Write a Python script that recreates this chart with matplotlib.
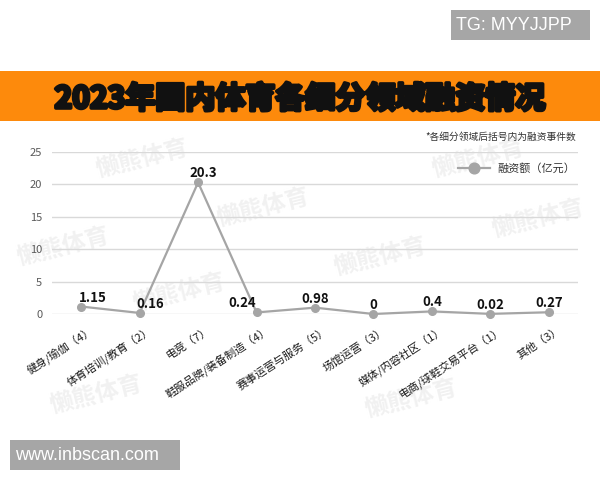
import matplotlib
matplotlib.use('Agg')
import matplotlib.pyplot as plt
from matplotlib.patches import Rectangle
from matplotlib.transforms import ScaledTranslation
import matplotlib.patheffects as pe

plt.rcParams['font.family'] = ['Noto Sans CJK SC', 'DejaVu Sans']

# ---- data ----
categories = ['健身/瑜伽（4）', '体育培训/教育（2）', '电竞（7）', '鞋服品牌/装备制造（4）',
              '赛事运营与服务（5）', '场馆运营（3）', '媒体/内容社区（1）',
              '电商/球鞋交易平台（1）', '其他（3）']
values = [1.15, 0.16, 20.3, 0.24, 0.98, 0, 0.4, 0.02, 0.27]
value_labels = ['1.15', '0.16', '20.3', '0.24', '0.98', '0', '0.4', '0.02', '0.27']
yticks = [0, 5, 10, 15, 20, 25]
series_name = '融资额（亿元）'
title = '2023年国内体育各细分领域融资情况'
note = '*各细分领域后括号内为融资事件数'
watermark = '懒熊体育'
tg_text = 'TG: MYYJJPP'
site_text = 'www.inbscan.com'

# label x-offsets (pixels), style only
label_dx_px = [12, 11, 5, -14, 0, 0, 0, 0, 0]

W, H = 600, 480
fig = plt.figure(figsize=(6, 4.8), dpi=100)
fig.patch.set_facecolor('white')

def fx(px):
    return px / W

def fy(py):
    return 1 - py / H

# orange band
fig.patches.append(Rectangle((0, fy(121)), 1, 50 / H, transform=fig.transFigure,
                             facecolor='#fd8a0c', edgecolor='none', zorder=-2))
fig.text(0.5, fy(99), title, ha='center', va='center', fontsize=21.6,
         fontweight='bold', color='#111111',
         path_effects=[pe.withStroke(linewidth=2.6, foreground='#111111')])

# TG box
fig.patches.append(Rectangle((fx(451), fy(40)), fx(590) - fx(451), 30 / H,
                             transform=fig.transFigure, facecolor='#a6a6a6',
                             edgecolor='none'))
fig.text(fx(456), fy(25.5), tg_text, ha='left', va='center', fontsize=13,
         color='white', family='Liberation Sans')

# site box
fig.patches.append(Rectangle((fx(10), fy(470)), fx(180) - fx(10), 30 / H,
                             transform=fig.transFigure, facecolor='#a6a6a6',
                             edgecolor='none'))
fig.text(fx(15), fy(455.5), site_text, ha='left', va='center', fontsize=13,
         color='white', family='Liberation Sans')

# watermarks
for (cx, cy) in [(142, 158), (63, 246), (179, 292), (263, 207), (478, 158),
                 (380, 256), (538, 218), (96, 394), (411, 398)]:
    fig.text(fx(cx), fy(cy), watermark, ha='center', va='center', fontsize=17,
             rotation=14, color='#f1f1f1', fontweight='bold', zorder=-1)

# note
fig.text(fx(576), fy(137), note, ha='right', va='center', fontsize=7, color='#333333')

# axes
ax = fig.add_axes([fx(52), fy(314), fx(578) - fx(52), (314 - 152) / H])
ax.set_facecolor('none')
x = list(range(len(categories)))
ax.plot(x, values, color='#a5a5a5', lw=1.6, marker='o', ms=5.5,
        markerfacecolor='#a5a5a5', markeredgecolor='#a5a5a5', label=series_name,
        zorder=3, clip_on=False)
for xi, v, lab, dx in zip(x, values, value_labels, label_dx_px):
    ax.annotate(lab, (xi, v), xytext=(dx * 0.72, 9 * 0.72), textcoords='offset points',
                ha='center', va='center', fontsize=9.5, fontweight='bold',
                color='#111111', zorder=4)

ax.set_xlim(-0.5, len(categories) - 0.5)
ax.set_ylim(0, 25)
ax.set_yticks(yticks)
ax.set_yticklabels([str(t) for t in yticks])
ax.yaxis.grid(True, color='#d9d9d9', lw=1)
ax.set_axisbelow(True)
for s in ax.spines.values():
    s.set_visible(False)
ax.tick_params(axis='y', length=0, pad=7, labelsize=8, labelcolor='#595959')
ax.tick_params(axis='x', length=0, pad=7.5)
ax.set_xticks(x)
ax.set_xticklabels(categories, rotation=33, ha='right', va='top',
                   rotation_mode='anchor', fontsize=8, color='#1a1a1a')
off = ScaledTranslation(9 / 100, 0, fig.dpi_scale_trans)
for lab in ax.get_xticklabels():
    lab.set_transform(lab.get_transform() + off)

ax.legend(loc='center right', bbox_to_anchor=(fx(575), fy(168)),
          bbox_transform=fig.transFigure, frameon=False, fontsize=8,
          handlelength=2.9, handletextpad=0.6, borderpad=0, borderaxespad=0,
          markerscale=1.4, labelcolor='#333333')

fig.savefig('out.png', dpi=100, facecolor='white')
